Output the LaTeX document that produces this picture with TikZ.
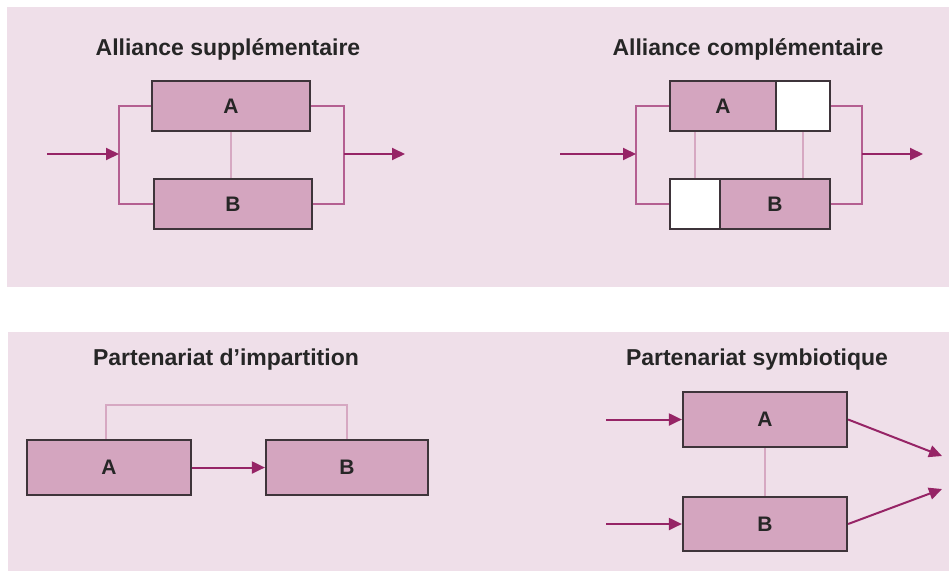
\documentclass[tikz,border=0pt]{standalone}
\usepackage{fontspec}
\setmainfont{Liberation Sans}
\usetikzlibrary{arrows.meta}
\definecolor{panelbg}{RGB}{239,223,233}
\definecolor{boxfill}{RGB}{212,165,191}
\definecolor{boxline}{RGB}{62,52,58}
\definecolor{flow}{RGB}{150,36,102}
\definecolor{link}{RGB}{180,95,145}
\definecolor{tie}{RGB}{214,168,194}
\tikzset{
  panel/.style={fill=panelbg, draw=none},
  title/.style={font=\bfseries\fontsize{23}{26}\selectfont, text=black!85},
  unit/.style={draw=boxline, line width=2.2pt, fill=boxfill, minimum height=50pt,
               inner sep=0pt, font=\bfseries\fontsize{21}{24}\selectfont, text=black!85},
  blank/.style={unit, fill=white},
  flowarrow/.style={draw=flow, line width=2pt, -{Triangle[length=13pt,width=12pt]}},
  bracket/.style={draw=link, line width=2pt},
  tieline/.style={draw=tie, line width=1.2pt}
}
\begin{document}
\begin{tikzpicture}[x=1pt,y=-1pt]
\useasboundingbox (0,0) rectangle (949,571);
\fill[white] (0,0) rectangle (949,571);
% two background panels
\path[panel] (7,7) rectangle (949,287);
\path[panel] (8,332) rectangle (949,571);

% ---- Alliance supplémentaire ----
\node[title] (t1) at (228,49) {Alliance supplémentaire};
\node[unit, minimum width=158pt] (sa) at (231,106) {A};
\node[unit, minimum width=158pt] (sb) at (233,204) {B};
\coordinate (s-in)  at (47,154);
\coordinate (s-l)   at (119,154);
\coordinate (s-r)   at (344,154);
\coordinate (s-out) at (405,154);
\draw[bracket] (sa.west) -| (s-l) |- (sb.west);
\draw[bracket] (sa.east) -| (s-r) |- (sb.east);
\draw[tieline] (sa.south) -- (sa.south |- sb.north);
\draw[flowarrow] (s-in) -- (s-l);
\draw[flowarrow] (s-r) -- (s-out);

% ---- Alliance complémentaire ----
\node[title] (t2) at (748,49) {Alliance complémentaire};
\node[unit, minimum width=106pt] (ca) at (723,106) {A};
\node[blank, minimum width=54pt] (caw) at (803,106) {};
\node[blank, minimum width=50pt] (cbw) at (695,204) {};
\node[unit, minimum width=110pt] (cb) at (775,204) {B};
\coordinate (c-in)  at (560,154);
\coordinate (c-l)   at (636,154);
\coordinate (c-r)   at (862,154);
\coordinate (c-out) at (923,154);
\draw[bracket] (ca.west) -| (c-l) |- (cbw.west);
\draw[bracket] (caw.east) -| (c-r) |- (cb.east);
\draw[tieline] (cbw.north |- ca.south) -- (cbw.north);
\draw[tieline] (caw.south) -- (caw.south |- cb.north);
\draw[flowarrow] (c-in) -- (c-l);
\draw[flowarrow] (c-r) -- (c-out);

% ---- Partenariat d'impartition ----
\node[title] (t3) at (226,360) {Partenariat d’impartition};
\node[unit, minimum width=164pt, minimum height=55pt] (ia) at (109,467.5) {A};
\node[unit, minimum width=162pt, minimum height=55pt] (ib) at (347,467.5) {B};
\coordinate (i-bar) at (0,405);
\draw[tieline] ([xshift=-3pt]ia.north) -- ([xshift=-3pt]ia.north |- i-bar) -| (ib.north);
\draw[flowarrow] (ia.east) -- (ib.west);

% ---- Partenariat symbiotique ----
\node[title] (t4) at (757,360) {Partenariat symbiotique};
\node[unit, minimum width=164pt, minimum height=55pt] (ya) at (765,419.5) {A};
\node[unit, minimum width=164pt, minimum height=54pt] (yb) at (765,524) {B};
\coordinate (y-ina) at (606,419.5);
\coordinate (y-inb) at (606,524);
\coordinate (y-outa) at (942,456);
\coordinate (y-outb) at (942,489);
\draw[tieline] (ya.south) -- (yb.north);
\draw[flowarrow] (y-ina) -- (ya.west);
\draw[flowarrow] (y-inb) -- (yb.west);
\draw[flowarrow] (ya.east) -- (y-outa);
\draw[flowarrow] (yb.east) -- (y-outb);
\end{tikzpicture}
\end{document}
